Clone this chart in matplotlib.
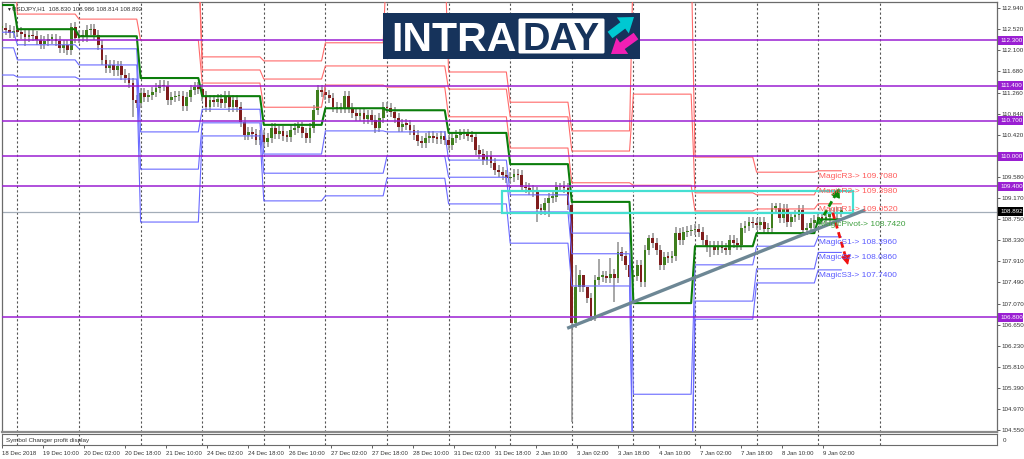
import numpy as np
import matplotlib
matplotlib.use("Agg")
import matplotlib.pyplot as plt
from matplotlib.patches import Rectangle, FancyArrow, FancyBboxPatch

plt.rcParams['font.family'] = ['Liberation Sans', 'DejaVu Sans']

# hourly closes, one per bar
closes = [
    112.55, 112.50, 112.44, 112.48, 112.47, 112.42, 112.36, 112.40, 112.38, 112.30, 112.22, 112.28,
    112.33, 112.33, 112.28, 112.15, 112.20, 112.10, 112.56, 112.35, 112.40, 112.37, 112.50, 112.53,
    112.40, 112.20, 111.90, 111.75, 111.80, 111.70, 111.78, 111.62, 111.55, 111.45, 111.12, 111.05,
    111.25, 111.17, 111.21, 111.27, 111.35, 111.41, 111.39, 111.11, 111.17, 111.19, 111.19, 110.99,
    111.17, 111.31, 111.37, 111.33, 111.19, 110.97, 111.11, 111.07, 111.13, 111.05, 111.19, 110.97,
    111.11, 110.97, 110.68, 110.42, 110.48, 110.44, 110.32, 110.42, 110.28, 110.36, 110.56, 110.44,
    110.50, 110.40, 110.38, 110.52, 110.56, 110.58, 110.46, 110.36, 110.56, 110.91, 111.31, 111.27,
    111.21, 111.15, 110.97, 110.95, 110.95, 111.19, 110.95, 110.85, 110.79, 110.85, 110.74, 110.81,
    110.72, 110.56, 110.75, 110.97, 110.95, 110.87, 110.75, 110.58, 110.64, 110.62, 110.52, 110.42,
    110.30, 110.26, 110.36, 110.40, 110.36, 110.34, 110.40, 110.32, 110.22, 110.36, 110.42, 110.44,
    110.44, 110.40, 110.38, 110.12, 110.04, 109.92, 110.00, 109.86, 109.72, 109.68, 109.62, 109.56,
    109.58, 109.64, 109.62, 109.38, 109.36, 109.33, 109.29, 108.95, 108.93, 109.07, 109.17, 109.19,
    109.38, 109.40, 109.36, 109.03, 106.68, 107.40, 107.64, 107.40, 107.18, 106.82, 107.54, 107.60,
    107.62, 107.58, 107.66, 107.58, 108.09, 108.01, 107.84, 107.60, 107.62, 107.84, 107.50, 108.13,
    108.37, 108.27, 108.13, 107.84, 108.00, 107.98, 108.02, 108.47, 108.33, 108.49, 108.51, 108.53,
    108.55, 108.49, 108.33, 108.19, 108.21, 108.13, 108.21, 108.17, 108.13, 108.33, 108.27, 108.23,
    108.57, 108.61, 108.69, 108.67, 108.63, 108.69, 108.55, 108.57, 108.97, 108.97, 108.77, 108.95,
    108.69, 108.79, 108.83, 108.93, 108.53, 108.57, 108.67, 108.73, 108.79, 108.75, 108.79, 108.87,
    108.85, 108.89, 108.892,
]
long_highs = {18: 112.65, 82: 111.41, 89: 111.30, 99: 111.07, 145: 109.47, 149: 107.84, 151: 107.64,
              152: 107.30, 155: 107.95, 158: 107.98, 160: 108.30, 168: 108.43, 175: 108.60, 202: 109.07}
long_lows = {6: 112.18, 34: 110.78, 98: 110.48, 139: 108.69, 142: 108.79, 148: 104.72, 159: 107.10,
             163: 107.40, 184: 107.99}

# levels per 16 bar block, the first one is the part before the first separator
pivot = [113.00, 112.52, 112.38, 111.55, 111.19, 110.62, 110.95, 110.91, 110.46, 109.84, 109.09, 107.08, 108.21, 108.47, 108.742]
r1 = [114.0, 112.82, 112.72, 112.30, 111.45, 110.97, 111.41, 111.37, 110.78, 110.16, 109.47, 109.42, 108.91, 108.95, 109.052]
r2 = [114.0, 114.0, 114.0, 114.0, 111.71, 111.53, 111.79, 111.79, 111.33, 110.78, 110.10, 111.23, 109.27, 109.23, 109.398]
r3 = [114.0, 114.0, 114.0, 114.0, 111.97, 111.89, 112.25, 114.0, 111.67, 111.07, 110.50, 114.0, 109.98, 109.68, 109.708]
s1 = [112.46, 112.21, 112.13, 110.48, 110.93, 110.04, 110.50, 110.48, 109.92, 109.23, 108.47, 105.27, 107.84, 108.21, 108.396]
s2 = [112.15, 111.91, 111.81, 109.74, 110.66, 109.66, 109.66, 110.00, 109.58, 108.89, 108.06, 103.0, 107.12, 107.76, 108.086]
s3 = [111.61, 111.57, 111.53, 108.69, 110.40, 109.11, 109.21, 109.56, 109.05, 108.27, 107.42, 103.0, 106.76, 107.48, 107.740]

hlines = [112.300, 111.400, 110.700, 110.000, 109.400, 106.800]
hline_labels = ["112.300", "111.400", "110.700", "110.000", "109.400", "106.800"]
last_price = 108.892

price_ticks = [112.94, 112.52, 112.10, 111.68, 111.26, 110.84, 110.42, 109.58, 109.17, 108.75, 108.33,
               107.91, 107.49, 107.07, 106.65, 106.23, 105.81, 105.39, 104.97, 104.55]
time_labels = ["18 Dec 2018", "19 Dec 10:00", "20 Dec 02:00", "20 Dec 18:00", "21 Dec 10:00", "24 Dec 02:00",
               "24 Dec 18:00", "26 Dec 10:00", "27 Dec 02:00", "27 Dec 18:00", "28 Dec 10:00", "31 Dec 02:00",
               "31 Dec 18:00", "2 Jan 10:00", "3 Jan 02:00", "3 Jan 18:00", "4 Jan 10:00", "7 Jan 02:00",
               "7 Jan 18:00", "8 Jan 10:00", "9 Jan 02:00"]

magic_labels = ["MagicR3-> 109.7080", "MagicR2-> 109.3980", "MagicR1-> 109.0520", "MagicPivot-> 108.7420",
                "MagicS1-> 108.3960", "MagicS2-> 108.0860", "MagicS3-> 107.7400"]
magic_levels = [109.708, 109.398, 109.052, 108.742, 108.396, 108.086, 107.740]
magic_colors = ["#ff5a5a", "#ff5a5a", "#ff5a5a", "#3f9f3f", "#5a5aff", "#5a5aff", "#5a5aff"]

W, H = 1024, 459
PURPLE = "#9a1fd2"

def step_line(levels, last_bar):
    xs, ys = [0], [levels[0]]
    for k, lvl in enumerate(levels[1:]):
        b = 4 + 16 * k
        xs += [b - 1, b]
        ys += [ys[-1], lvl]
    xs.append(last_bar)
    ys.append(levels[-1])
    return xs, ys

fig = plt.figure(figsize=(W / 100, H / 100), dpi=100)
fig.patch.set_facecolor("white")

ax = fig.add_axes([2 / W, (H - 432) / H, 995 / W, 430 / H])
sub = fig.add_axes([2 / W, (H - 445) / H, 995 / W, 11 / H])

bars = np.arange(len(closes))
closes = np.array(closes)
opens = np.concatenate([closes[:1], closes[:-1]])
ax.set_xlim(0, 995 / 3.85)
ax.set_ylim(104.52, 113.06)
sub.set_xlim(ax.get_xlim())
sub.set_ylim(0, 1)

separators = np.arange(4, 230, 16)
for b in separators:
    ax.axvline(b, color="#555555", lw=0.8, ls=(0, (2, 2)), zorder=1)
    sub.axvline(b, color="#555555", lw=0.8, ls=(0, (2, 2)), zorder=1)

ax.axhline(last_price, color="#a3adb8", lw=0.9, zorder=1)

# candles
highs = np.maximum(opens, closes) + 0.1
lows = np.minimum(opens, closes) - 0.1
for i, v in long_highs.items():
    highs[i] = v
for i, v in long_lows.items():
    lows[i] = v
ax.vlines(bars, lows, highs, color="#8e8e8e", lw=1.1, zorder=2)
is_up = closes >= opens
body_h = np.maximum(np.abs(closes - opens), 0.03)
ax.bar(bars[is_up], body_h[is_up], bottom=opens[is_up], width=0.72, color="#3f7f1e", zorder=3)
ax.bar(bars[~is_up], body_h[~is_up], bottom=closes[~is_up], width=0.72, color="#7f1c1c", zorder=3)

last_bar = len(closes) - 1
for series in (r1, r2, r3):
    xs, ys = step_line(series, last_bar)
    ax.plot(xs, ys, color="#ff6a6a", lw=0.8, zorder=4)
for series in (s1, s2, s3):
    xs, ys = step_line(series, last_bar)
    ax.plot(xs, ys, color="#6a6aff", lw=0.8, zorder=4)
xs, ys = step_line(pivot, last_bar)
ax.plot(xs, ys, color="#0b7d0b", lw=1.5, zorder=5)

for v in hlines:
    ax.axhline(v, color=PURPLE, lw=1.1, zorder=5)

# drawn objects on top of the chart
ax.add_patch(Rectangle((129.9, 108.87), 91.1, 0.43, fill=False, ec="#45dfd2", lw=1.6, zorder=6))
ax.plot([146.8, 224.2], [106.58, 108.93], color="#6d8795", lw=2.4, solid_capstyle="butt", zorder=7)
ax.plot([212.2, 217.0], [108.65, 109.30], color="#0b8a0b", lw=2.0, ls=(0, (2.2, 1.4)), zorder=7)
ax.annotate("", xy=(217.8, 109.42), xytext=(216.2, 109.14), zorder=7,
            arrowprops=dict(arrowstyle="-|>", color="#0b8a0b", lw=1, mutation_scale=14))
ax.plot([215.8, 219.3], [108.87, 107.95], color="#f01010", lw=2.0, ls=(0, (2.2, 1.4)), zorder=7)
ax.annotate("", xy=(219.9, 107.78), xytext=(219.0, 108.06), zorder=7,
            arrowprops=dict(arrowstyle="-|>", color="#f01010", lw=1, mutation_scale=14))

for txt, lvl, col in zip(magic_labels, magic_levels, magic_colors):
    ax.text(212.2, lvl - 0.11, txt, color=col, fontsize=6.0, va="center", ha="left", zorder=8)

ax.text(1.0, 112.92, "\u25bc", fontsize=3.5, color="#222222", va="center", zorder=8)
ax.text(2.6, 112.92, "USDJPY,H1  108.830 108.986 108.814 108.892", fontsize=4.4, color="#333333", va="center", zorder=8)

ax.yaxis.tick_right()
ax.set_yticks(price_ticks)
ax.set_yticklabels([f"{v:.3f}" for v in price_ticks], fontsize=4.5, color="#333333")
ax.tick_params(axis="y", length=2, width=0.6, pad=1, color="#444444")
ax.set_xticks([])
for s in ax.spines.values():
    s.set_color("#6b6b6b")
    s.set_linewidth(0.9)
ax.spines["bottom"].set_linewidth(1.6)
ax.spines["bottom"].set_color("#8a8a8a")

tick_pos = np.arange(len(time_labels)) * 32 / 3
sub.set_xticks(tick_pos)
sub.set_xticklabels(time_labels, fontsize=4.3, color="#333333", ha="left")
sub.tick_params(axis="x", length=2, width=0.6, pad=2, color="#444444")
sub.set_yticks([])
sub.text(1, 0.45, "Symbol Changer profit display", fontsize=4.5, color="#333333", va="center")
sub.text(1.006, 0.4, "0", fontsize=4.5, color="#333333", va="center", transform=sub.transAxes)
for s in sub.spines.values():
    s.set_color("#6b6b6b")
    s.set_linewidth(0.8)

# pixel overlay for price tags and the logo
top = fig.add_axes([0, 0, 1, 1], zorder=10)
top.set_xlim(0, W)
top.set_ylim(H, 0)
top.axis("off")
top.patch.set_alpha(0)

y_scale = 430 / (113.06 - 104.52)
def py(v):
    return 2 + (113.06 - v) * y_scale

for v, txt in zip(hlines, hline_labels):
    top.add_patch(Rectangle((998, py(v) - 4.5), 25, 9, fc=PURPLE, ec="none"))
    top.text(1000, py(v), txt, color="white", fontsize=4.5, va="center", ha="left")
top.add_patch(Rectangle((998, py(last_price) - 4.5), 25, 9, fc="black", ec="none"))
top.text(1000, py(last_price), "108.892", color="white", fontsize=4.5, va="center", ha="left")

top.add_patch(Rectangle((383, 13), 257, 46, fc="#16335b", ec="none"))
top.text(391, 36, "INTRA", color="white", fontsize=29.5, fontweight="bold", va="center_baseline", ha="left")
top.add_patch(FancyBboxPatch((519, 19), 85, 34, boxstyle="round,pad=0.5,rounding_size=1.5", fc="white", ec="none"))
top.text(561.5, 36, "DAY", color="#16335b", fontsize=27.5, fontweight="bold", va="center_baseline", ha="center")
top.add_patch(FancyArrow(610, 35, 24, -18, width=8, head_width=20, head_length=14,
                         length_includes_head=True, fc="#00c8d2", ec="none"))
top.add_patch(FancyArrow(636, 36, -25, 18, width=8, head_width=20, head_length=14,
                         length_includes_head=True, fc="#f01fb4", ec="none"))

fig.savefig("out.png", dpi=100)
